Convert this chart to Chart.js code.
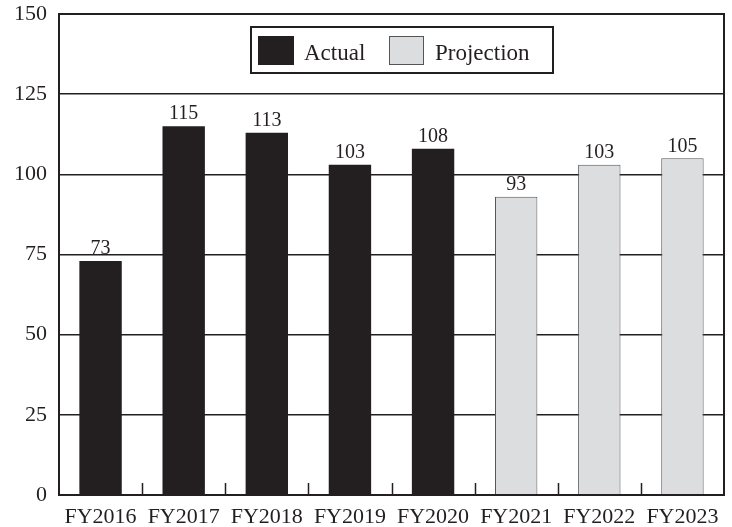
<!DOCTYPE html>
<html>
<head>
<meta charset="utf-8">
<script src="https://cdn.jsdelivr.net/npm/chart.js@4"></script>
<style>
  html, body { margin: 0; padding: 0; background: #fff; }
  #wrap { width: 732px; height: 527px; }
</style>
</head>
<body>
<div id="wrap"><canvas id="myChart" width="732" height="527"></canvas></div>
<script>
// chart data
const years = ['FY2016', 'FY2017', 'FY2018', 'FY2019', 'FY2020', 'FY2021', 'FY2022', 'FY2023'];
const actual = [73, 115, 113, 103, 108, null, null, null];
const projection = [null, null, null, null, null, 93, 103, 105];
const yTicks = [0, 25, 50, 75, 100, 125, 150];

const INK = '#231f20';
const GRAY = '#dcdddf';
const FONT = '"Liberation Serif", "DejaVu Serif", serif';

// frame, inward x ticks, value labels and boxed legend
const decorPlugin = {
    id: 'decor',
    afterDatasetsDraw(chart) {
        const { ctx, chartArea: { left, right, top, bottom }, scales: { x } } = chart;
        ctx.save();

        // small ticks between categories, pointing up
        ctx.strokeStyle = INK;
        ctx.lineWidth = 1.5;
        for (let i = 1; i < years.length; i++) {
            const px = Math.round(x.getPixelForValue(i - 0.5)) + 0.5;
            ctx.beginPath();
            ctx.moveTo(px, bottom);
            ctx.lineTo(px, bottom - 12);
            ctx.stroke();
        }

        // value labels
        ctx.fillStyle = INK;
        ctx.font = `20px ${FONT}`;
        ctx.textAlign = 'center';
        ctx.textBaseline = 'bottom';
        chart.data.datasets.forEach((ds, di) => {
            chart.getDatasetMeta(di).data.forEach((bar, i) => {
                if (ds.data[i] == null) return;
                ctx.fillText(ds.data[i], bar.x, bar.y - 2);
            });
        });

        // plot frame
        ctx.lineWidth = 2;
        ctx.strokeRect(left, top, right - left, bottom - top);

        // legend box
        const lx = 251, ly = 27, lw = 302, lh = 46;
        ctx.fillStyle = '#fff';
        ctx.fillRect(lx, ly, lw, lh);
        ctx.lineWidth = 2;
        ctx.strokeStyle = INK;
        ctx.strokeRect(lx, ly, lw, lh);

        ctx.font = `23px ${FONT}`;
        ctx.textAlign = 'left';
        ctx.textBaseline = 'alphabetic';

        ctx.fillStyle = INK;
        ctx.fillRect(258, 36, 36, 29);
        ctx.fillText(chart.data.datasets[0].label, 304, 60);

        ctx.fillStyle = GRAY;
        ctx.fillRect(389, 36, 35, 29);
        ctx.lineWidth = 1;
        ctx.strokeStyle = '#555';
        ctx.strokeRect(389.5, 36.5, 34, 28);
        ctx.fillStyle = INK;
        ctx.fillText(chart.data.datasets[1].label, 435, 60);

        ctx.restore();
    }
};

new Chart(document.querySelector('#myChart').getContext('2d'), {
    type: 'bar',
    data: {
        labels: years,
        datasets: [
            {
                label: 'Actual',
                data: actual,
                backgroundColor: INK,
                borderColor: INK,
                borderWidth: 0
            },
            {
                label: 'Projection',
                data: projection,
                backgroundColor: GRAY,
                borderColor: '#555',
                borderWidth: 1
            }
        ]
    },
    options: {
        responsive: false,
        animation: false,
        grouped: false,
        barPercentage: 0.51,
        categoryPercentage: 1,
        layout: { padding: { top: 14, right: 8, left: 0, bottom: 0 } },
        plugins: {
            legend: { display: false },
            tooltip: { enabled: false }
        },
        scales: {
            x: {
                grid: { display: false },
                border: { display: false },
                ticks: {
                    color: INK,
                    font: { family: FONT, size: 22 },
                    padding: 1,
                    maxRotation: 0,
                    autoSkip: false
                },
                afterFit(scale) {
                    scale.height = 32;
                    scale.paddingLeft = 0;
                    scale.paddingRight = 0;
                }
            },
            y: {
                min: 0,
                max: 150,
                afterBuildTicks(scale) { scale.ticks = yTicks.map(v => ({ value: v })); },
                grid: { color: INK, lineWidth: 1.5, drawTicks: false },
                border: { display: false },
                ticks: {
                    color: INK,
                    font: { family: FONT, size: 22 },
                    padding: 12
                },
                afterFit(scale) {
                    scale.width = 59;
                    scale.paddingTop = 0;
                    scale.paddingBottom = 0;
                }
            }
        }
    },
    plugins: [decorPlugin]
});
</script>
</body>
</html>
